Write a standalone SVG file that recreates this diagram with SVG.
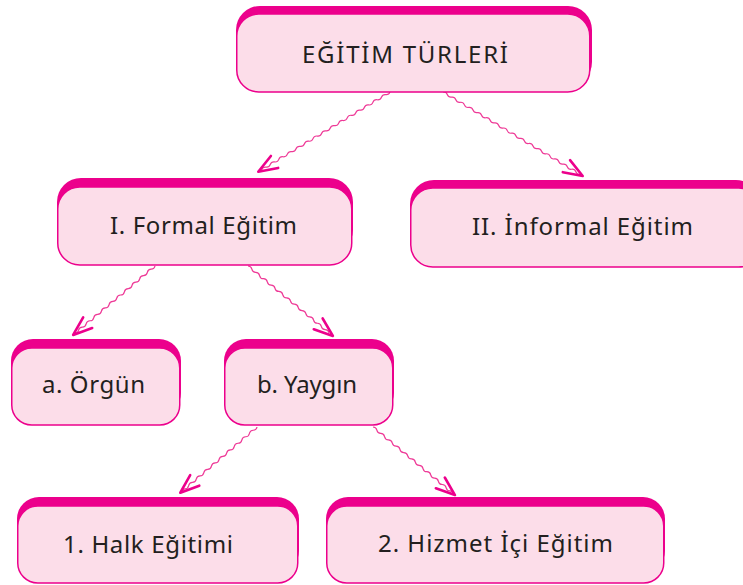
<svg xmlns="http://www.w3.org/2000/svg" width="743" height="585" viewBox="0 0 743 585">
<style>
.back{fill:#ec008c}
.front{fill:#fcdde9;stroke:#ec008c;stroke-width:1.5}
.lbl{font-family:"Noto Sans","DejaVu Sans",sans-serif;font-size:24px;fill:#231f20;text-anchor:middle}
.wave{fill:none;stroke:#ee3a97;stroke-width:1.2}
.head{fill:none;stroke:#ec008c;stroke-width:2.6;stroke-linecap:round;stroke-linejoin:round}
</style>
<rect width="743" height="585" fill="#ffffff"/>
<g id="connectors">
<g transform="translate(390,92) rotate(148.8)">
<path class="wave" d="M0 0 q2.5 -2 5 0 t5 0 t5 0 t5 0 t5 0 t5 0 t5 0 t5 0 t5 0 t5 0 t5 0 t5 0 t5 0 t5 0 t5 0 t5 0 t5 0 t5 0 t5 0 t5 0 t5 0 t5 0 t5 0 t5 0 t5 0 t5 0 t5 0 t5 0 t5 0 t5 0"/>
<polyline class="head" points="135,-7 154,0 135,7"/>
</g>
<g transform="translate(443,92) rotate(31)">
<path class="wave" d="M0 0 q2.5 -2 5 0 t5 0 t5 0 t5 0 t5 0 t5 0 t5 0 t5 0 t5 0 t5 0 t5 0 t5 0 t5 0 t5 0 t5 0 t5 0 t5 0 t5 0 t5 0 t5 0 t5 0 t5 0 t5 0 t5 0 t5 0 t5 0 t5 0 t5 0 t5 0 t5 0 t5 0 t5 0"/>
<polyline class="head" points="144,-7 163,0 144,7"/>
</g>
<g transform="translate(155,266) rotate(139.9)">
<path class="wave" d="M0 0 q2.5 -2 5 0 t5 0 t5 0 t5 0 t5 0 t5 0 t5 0 t5 0 t5 0 t5 0 t5 0 t5 0 t5 0 t5 0 t5 0 t5 0 t5 0 t5 0 t5 0 t5 0 t5 0"/>
<polyline class="head" points="88,-7 107,0 88,7"/>
</g>
<g transform="translate(248,266) rotate(39.5)">
<path class="wave" d="M0 0 q2.5 -2 5 0 t5 0 t5 0 t5 0 t5 0 t5 0 t5 0 t5 0 t5 0 t5 0 t5 0 t5 0 t5 0 t5 0 t5 0 t5 0 t5 0 t5 0 t5 0 t5 0 t5 0"/>
<polyline class="head" points="91,-7 110,0 91,7"/>
</g>
<g transform="translate(257,427) rotate(139.4)">
<path class="wave" d="M0 0 q2.5 -2 5 0 t5 0 t5 0 t5 0 t5 0 t5 0 t5 0 t5 0 t5 0 t5 0 t5 0 t5 0 t5 0 t5 0 t5 0 t5 0 t5 0 t5 0 t5 0 t5 0"/>
<polyline class="head" points="82,-7 101,0 82,7"/>
</g>
<g transform="translate(373,427) rotate(39.7)">
<path class="wave" d="M0 0 q2.5 -2 5 0 t5 0 t5 0 t5 0 t5 0 t5 0 t5 0 t5 0 t5 0 t5 0 t5 0 t5 0 t5 0 t5 0 t5 0 t5 0 t5 0 t5 0 t5 0 t5 0 t5 0"/>
<polyline class="head" points="87.5,-7 106.5,0 87.5,7"/>
</g>
</g>
<g id="node-egitim-turleri">
<rect class="back" x="236" y="6" width="356" height="80" rx="24"/>
<rect class="front" x="236.75" y="14" width="353" height="78" rx="22"/>
<text class="lbl" x="405" y="63" font-size="26" textLength="206" lengthAdjust="spacing">EĞİTİM TÜRLERİ</text>
</g>
<g id="node-formal">
<rect class="back" x="57" y="178" width="296" height="76" rx="24"/>
<rect class="front" x="57.75" y="187" width="294" height="78" rx="22"/>
<text class="lbl" x="203.5" y="234" textLength="187" lengthAdjust="spacing">I. Formal Eğitim</text>
</g>
<g id="node-informal">
<rect class="back" x="410" y="180" width="350" height="76" rx="24"/>
<rect class="front" x="410.75" y="188" width="350" height="79" rx="22"/>
<text class="lbl" x="582.5" y="235" textLength="221" lengthAdjust="spacing">II. İnformal Eğitim</text>
</g>
<g id="node-orgun">
<rect class="back" x="11" y="339" width="170" height="76" rx="22"/>
<rect class="front" x="11.75" y="348" width="168" height="77" rx="20"/>
<text class="lbl" x="93.5" y="393" textLength="103" lengthAdjust="spacing">a. Örgün</text>
</g>
<g id="node-yaygin">
<rect class="back" x="224" y="339" width="170" height="76" rx="22"/>
<rect class="front" x="224.75" y="348" width="168" height="77" rx="20"/>
<text class="lbl" x="307" y="393" textLength="100" lengthAdjust="spacing">b. Yaygın</text>
</g>
<g id="node-halk">
<rect class="back" x="17" y="497" width="282" height="76" rx="22"/>
<rect class="front" x="17.75" y="506" width="280" height="77" rx="20"/>
<text class="lbl" x="148" y="553" textLength="170" lengthAdjust="spacing">1. Halk Eğitimi</text>
</g>
<g id="node-hizmet">
<rect class="back" x="326" y="497" width="339" height="76" rx="22"/>
<rect class="front" x="326.75" y="506" width="337" height="77" rx="20"/>
<text class="lbl" x="495.5" y="552" textLength="235" lengthAdjust="spacing">2. Hizmet İçi Eğitim</text>
</g>
</svg>
